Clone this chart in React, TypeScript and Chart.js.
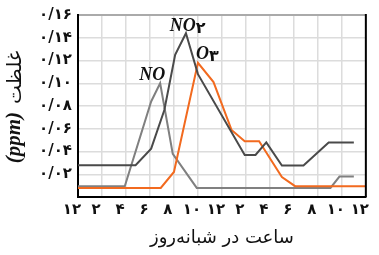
import React, { useEffect, useRef } from "react";
import { Chart, registerables } from "chart.js";

Chart.register(...registerables);

// Hours of the day (0 = midnight, 24 = next midnight)
const xTickLabels = ["۱۲", "۲", "۴", "۶", "۸", "۱۰", "۱۲", "۲", "۴", "۶", "۸", "۱۰", "۱۲"];
const yTickLabels = ["", "۰/۰۲", "۰/۰۴", "۰/۰۶", "۰/۰۸", "۰/۱۰", "۰/۱۲", "۰/۱۴", "۰/۱۶"];

const noHours = [0, 3.9, 6.1, 6.85, 7.9, 9.9, 21.05, 21.8, 23.0];
const noValues = [0.0095, 0.0095, 0.084, 0.1, 0.038, 0.008, 0.008, 0.018, 0.018];

const no2Hours = [0, 4.8, 6.1, 7.2, 8.1, 9.0, 10.0, 13.9, 14.8, 15.7, 17.0, 18.8, 20.9, 23.0];
const no2Values = [0.028, 0.028, 0.0425, 0.0765, 0.125, 0.144, 0.108, 0.037, 0.037, 0.048, 0.0276, 0.0276, 0.048, 0.048];

const o3Hours = [0, 6.9, 8.0, 10.0, 11.3, 12.8, 13.9, 15.1, 17.0, 18.1, 24];
const o3Values = [0.008, 0.008, 0.022, 0.118, 0.101, 0.059, 0.049, 0.049, 0.0175, 0.0095, 0.0095];

// Series labels anchored in data coordinates: [hour, value]
const noLabelAt = [6.2, 0.1026];
const no2LabelAt = [9.15, 0.146];
const o3LabelAt = [9.84, 0.121];

const xTitle = "ساعت در شبانه‌روز";
const yTitleWord = "غلظت";
const yTitleUnit = "(ppm)";

const zip = (xs: number[], ys: number[]) => xs.map((x, i) => ({ x, y: ys[i] }));

export default function App() {
  const ref = useRef<HTMLCanvasElement | null>(null);

  useEffect(() => {
    if (!ref.current) return;
    const decor = {
      id: "decor",
      afterDraw(chart: any) {
        const { ctx, chartArea, scales } = chart;
        const xs = scales.x;
        const ys = scales.y;
        ctx.save();
        // right border
        ctx.strokeStyle = "#000";
        ctx.lineWidth = 2;
        ctx.beginPath();
        ctx.moveTo(chartArea.right, chartArea.top - 1);
        ctx.lineTo(chartArea.right, chartArea.bottom);
        ctx.stroke();

        // series labels
        const serif = "italic bold 18px 'Liberation Serif', serif";
        const sub = "bold 16px 'DejaVu Sans', sans-serif";
        ctx.fillStyle = "#111";
        ctx.textBaseline = "alphabetic";
        const drawLabel = (main: string, subTxt: string, at: number[], align: "center" | "left") => {
          ctx.font = serif;
          const w1 = ctx.measureText(main).width;
          ctx.font = sub;
          const w2 = subTxt ? ctx.measureText(subTxt).width : 0;
          const px = xs.getPixelForValue(at[0]);
          const py = ys.getPixelForValue(at[1]);
          const start = align === "center" ? px - (w1 + w2) / 2 : px;
          ctx.textAlign = "left";
          ctx.font = serif;
          ctx.fillText(main, start, py);
          if (subTxt) {
            ctx.font = sub;
            ctx.fillText(subTxt, start + w1, py + 2);
          }
        };
        drawLabel("NO", "", noLabelAt, "center");
        drawLabel("NO", "۲", no2LabelAt, "center");
        drawLabel("O", "۳", o3LabelAt, "left");

        // y axis title
        ctx.translate(15, (chartArea.top + chartArea.bottom) / 2 + 1);
        ctx.rotate(-Math.PI / 2);
        const unitFont = "italic bold 21px 'Liberation Serif', serif";
        const wordFont = "20px 'DejaVu Sans', sans-serif";
        ctx.font = unitFont;
        const wu = ctx.measureText(yTitleUnit).width;
        ctx.font = wordFont;
        const ww = ctx.measureText(yTitleWord).width;
        const gap = 8;
        const s = -(wu + gap + ww) / 2;
        ctx.textBaseline = "middle";
        ctx.textAlign = "left";
        ctx.fillStyle = "#111";
        ctx.font = unitFont;
        ctx.fillText(yTitleUnit, s, 0);
        ctx.font = wordFont;
        ctx.fillText(yTitleWord, s + wu + gap, 1);
        ctx.restore();
      },
    };

    const chart = new Chart(ref.current, {
      type: "line",
      data: {
        datasets: [
          {
            label: "NO2",
            data: zip(no2Hours, no2Values),
            borderColor: "#4a4a4a",
            borderWidth: 2,
            pointRadius: 0,
            tension: 0,
            order: 0,
          },
          {
            label: "O3",
            data: zip(o3Hours, o3Values),
            borderColor: "#f26a1f",
            borderWidth: 2,
            pointRadius: 0,
            tension: 0,
            order: 1,
          },
          {
            label: "NO",
            data: zip(noHours, noValues),
            borderColor: "#808080",
            borderWidth: 2,
            pointRadius: 0,
            tension: 0,
            order: 2,
          },
        ],
      },
      options: {
        animation: false,
        responsive: false,
        parsing: false,
        layout: { padding: { top: 11, right: 10, left: 0, bottom: 0 } },
        plugins: { legend: { display: false }, tooltip: { enabled: false } },
        scales: {
          x: {
            type: "linear",
            min: 0,
            max: 24,
            afterFit: (s: any) => {
              s.height = 58;
            },
            ticks: {
              stepSize: 2,
              autoSkip: false,
              maxRotation: 0,
              padding: 4,
              labelOffset: -6,
              color: "#111",
              font: { family: "'DejaVu Sans', sans-serif", size: 15, weight: "bold" },
              callback: (v: any) => xTickLabels[Math.round(Number(v) / 2)] ?? "",
            },
            grid: { color: "#dcdcdc", lineWidth: 1.5, drawTicks: false },
            border: { color: "#000", width: 2 },
            title: {
              display: true,
              text: xTitle,
              color: "#111",
              font: { family: "'DejaVu Sans', sans-serif", size: 18 },
              padding: { top: 0, bottom: 6 },
            },
          },
          y: {
            type: "linear",
            min: 0,
            max: 0.16,
            afterFit: (s: any) => {
              s.width = 78;
            },
            ticks: {
              stepSize: 0.02,
              padding: 6,
              color: "#111",
              font: { family: "'DejaVu Sans', sans-serif", size: 15, weight: "bold" },
              callback: (v: any) => yTickLabels[Math.round(Number(v) / 0.02)] ?? "",
            },
            grid: {
              color: (c: any) => (c.tick && Math.abs(c.tick.value - 0.16) < 1e-6 ? "#aaaaaa" : "#dcdcdc"),
              lineWidth: (c: any) => (c.tick && Math.abs(c.tick.value - 0.16) < 1e-6 ? 2 : 1.5),
              drawTicks: false,
            },
            border: { color: "#000", width: 2 },
          },
        },
      },
      plugins: [decor],
    } as any);

    return () => chart.destroy();
  }, []);

  return (
    <div style={{ position: "fixed", left: 0, top: 0, width: 379, height: 255, background: "#fff" }}>
      <canvas ref={ref} width={379} height={255} style={{ display: "block" }} />
    </div>
  );
}
